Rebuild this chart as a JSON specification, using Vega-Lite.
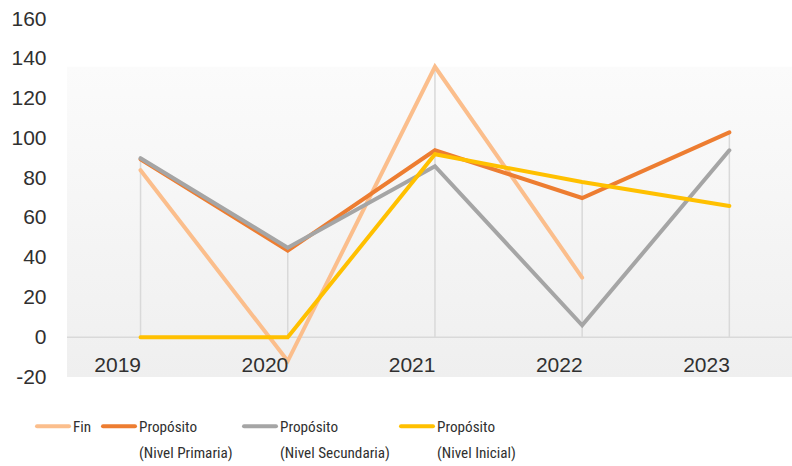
{
  "$schema": "https://vega.github.io/schema/vega-lite/v6.json",
  "width": 725,
  "height": 358,
  "autosize": "none",
  "padding": {"left": 67, "top": 19, "right": 0, "bottom": 89},
  "background": "white",
  "config": {
    "view": {"stroke": null},
    "font": "Liberation Sans",
    "axisY": {
      "labelOverlap": false,
      "labelSeparation": 0,
      "labelBound": false,
      "labelFlush": false
    }
  },
  "datasets": {
    "series": [
      {"year": "2019", "serie": "Fin", "value": 84},
      {"year": "2020", "serie": "Fin", "value": -12},
      {"year": "2021", "serie": "Fin", "value": 136},
      {"year": "2022", "serie": "Fin", "value": 30},
      {"year": "2019", "serie": "Propósito (Nivel Primaria)", "value": 89.5},
      {"year": "2020", "serie": "Propósito (Nivel Primaria)", "value": 43.5},
      {"year": "2021", "serie": "Propósito (Nivel Primaria)", "value": 94},
      {"year": "2022", "serie": "Propósito (Nivel Primaria)", "value": 70},
      {"year": "2023", "serie": "Propósito (Nivel Primaria)", "value": 103},
      {"year": "2019", "serie": "Propósito (Nivel Secundaria)", "value": 90},
      {"year": "2020", "serie": "Propósito (Nivel Secundaria)", "value": 45},
      {"year": "2021", "serie": "Propósito (Nivel Secundaria)", "value": 86},
      {"year": "2022", "serie": "Propósito (Nivel Secundaria)", "value": 6},
      {"year": "2023", "serie": "Propósito (Nivel Secundaria)", "value": 94},
      {"year": "2019", "serie": "Propósito (Nivel Inicial)", "value": 0},
      {"year": "2020", "serie": "Propósito (Nivel Inicial)", "value": 0},
      {"year": "2021", "serie": "Propósito (Nivel Inicial)", "value": 92},
      {"year": "2022", "serie": "Propósito (Nivel Inicial)", "value": 78},
      {"year": "2023", "serie": "Propósito (Nivel Inicial)", "value": 66}
    ],
    "bg": [{"top": 136, "bottom": -20, "zero": 0}]
  },
  "layer": [
    {
      "data": {"name": "bg"},
      "mark": {
        "type": "rect",
        "color": {
          "gradient": "linear",
          "x1": 0, "y1": 0, "x2": 0, "y2": 1,
          "stops": [
            {"offset": 0, "color": "#fbfbfb"},
            {"offset": 1, "color": "#efefef"}
          ]
        }
      },
      "encoding": {
        "y": {
          "field": "top",
          "type": "quantitative",
          "scale": {"domain": [-20, 160], "nice": false, "zero": false},
          "axis": {
            "title": null,
            "values": [-20, 0, 20, 40, 60, 80, 100, 120, 140, 160],
            "tickCount": 10,
            "labelExpr": "'' + datum.value",
            "labelOverlap": false,
            "labelSeparation": 0,
            "labelBound": false,
            "domain": false,
            "ticks": false,
            "grid": false,
            "labelPadding": 21,
            "labelFontSize": 21,
            "labelColor": "#303030",
            "labelFont": "Liberation Sans"
          }
        },
        "y2": {"field": "bottom"}
      }
    },
    {
      "data": {"name": "series"},
      "transform": [
        {"aggregate": [{"op": "max", "field": "value", "as": "maxv"}], "groupby": ["year"]}
      ],
      "mark": {"type": "rule", "color": "#d9d9d9", "strokeWidth": 1.5},
      "encoding": {
        "x": {"field": "year", "type": "ordinal"},
        "y": {"field": "maxv", "type": "quantitative"},
        "y2": {"datum": 0}
      }
    },
    {
      "data": {"name": "bg"},
      "mark": {"type": "rule", "color": "#d9d9d9", "strokeWidth": 1.5},
      "encoding": {
        "y": {"field": "zero", "type": "quantitative"}
      }
    },
    {
      "data": {"name": "series"},
      "mark": {"type": "line", "strokeWidth": 4, "strokeCap": "round"},
      "encoding": {
        "x": {
          "field": "year",
          "type": "ordinal",
          "scale": {"type": "point", "padding": 0.4626, "align": 0.54},
          "axis": {
            "title": null,
            "offset": -39.8,
            "domain": false,
            "ticks": false,
            "zindex": 1,
            "labelAngle": 0,
            "labelPadding": 28,
            "labelFontSize": 21,
            "labelColor": "#303030",
            "labelFont": "Liberation Sans"
          }
        },
        "y": {
          "field": "value",
          "type": "quantitative",
          "axis": {
            "title": null,
            "values": [-20, 0, 20, 40, 60, 80, 100, 120, 140, 160],
            "tickCount": 10,
            "labelExpr": "'' + datum.value",
            "labelOverlap": false,
            "labelSeparation": 0,
            "labelBound": false,
            "domain": false,
            "ticks": false,
            "grid": false,
            "labelPadding": 21,
            "labelFontSize": 21,
            "labelColor": "#303030",
            "labelFont": "Liberation Sans"
          }
        },
        "color": {
          "field": "serie",
          "type": "nominal",
          "scale": {
            "domain": ["Fin", "Propósito (Nivel Primaria)", "Propósito (Nivel Secundaria)", "Propósito (Nivel Inicial)"],
            "range": ["#fbbe8c", "#ed7d31", "#a5a5a5", "#ffc000"]
          },
          "legend": {
            "title": null,
            "orient": "none",
            "legendX": -32,
            "legendY": 389,
            "direction": "horizontal",
            "columns": 4,
            "columnPadding": 3,
            "symbolType": "stroke",
            "symbolSize": 1024,
            "symbolStrokeWidth": 4,
            "labelOffset": 2,
            "labelFont": "Roboto Condensed, Liberation Sans Narrow, Liberation Sans",
            "labelFontSize": 15.2,
            "labelColor": "#303030",
            "labelLimit": 400,
            "labelBaseline": "top",
            "labelExpr": "indexof(datum.label, ' (') >= 0 ? split(replace(datum.label, ' (', '|('), '|') : [datum.label, ' ']",
            "encode": {
              "symbols": {"update": {"strokeCap": {"value": "round"}}},
              "labels": {"update": {"dy": {"value": -6.5}, "lineHeight": {"value": 26}}}
            }
          }
        }
      }
    }
  ]
}
